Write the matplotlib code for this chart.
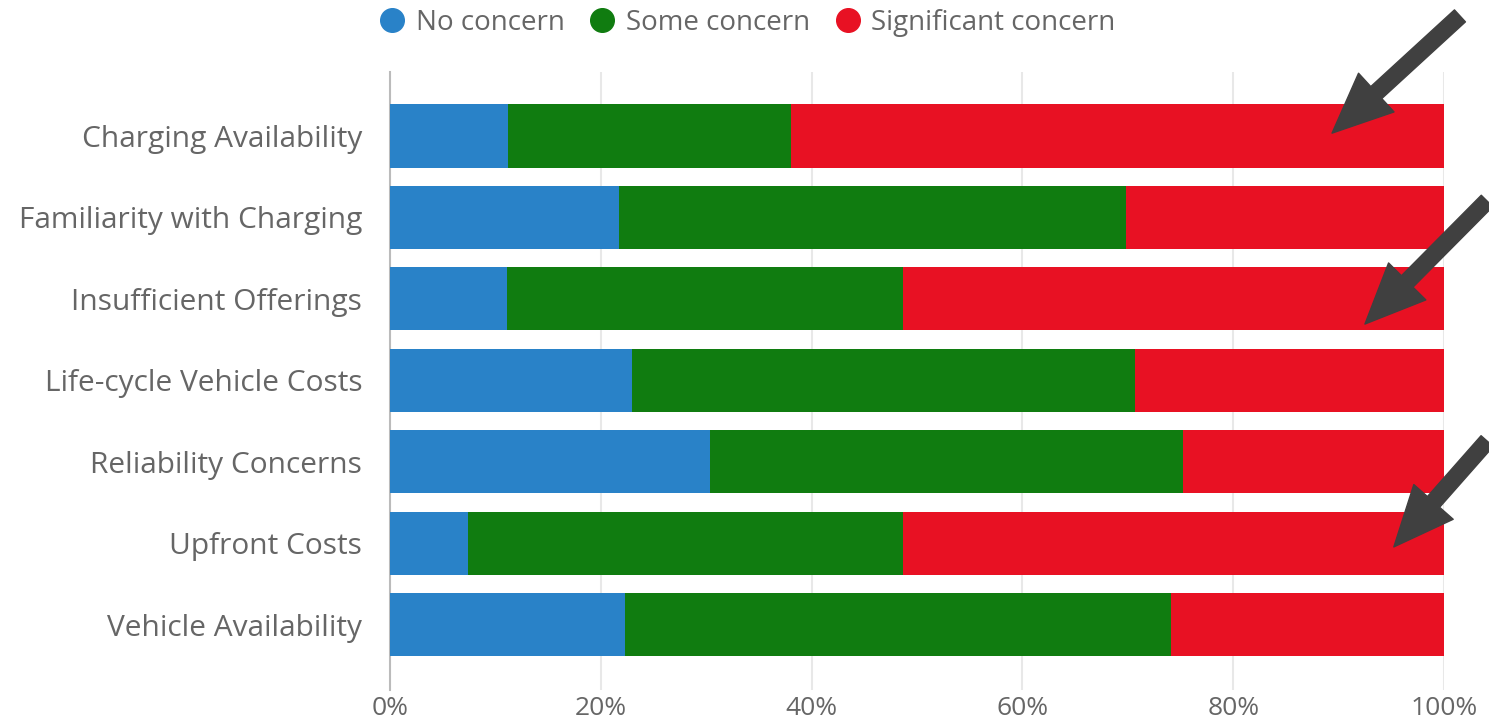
import numpy as np
import matplotlib.pyplot as plt
from matplotlib.lines import Line2D
from matplotlib.patches import FancyArrowPatch

plt.rcParams['font.family'] = ['Open Sans', 'DejaVu Sans']

categories = ['Charging Availability', 'Familiarity with Charging', 'Insufficient Offerings',
              'Life-cycle Vehicle Costs', 'Reliability Concerns', 'Upfront Costs',
              'Vehicle Availability']
noConcern = [11.2, 21.7, 11.1, 23.0, 30.4, 7.4, 22.3]
someConcern = [26.8, 48.1, 37.6, 47.7, 44.8, 41.3, 51.8]
significantConcern = [62.0, 30.2, 51.3, 29.3, 24.8, 51.3, 25.9]
seriesNames = ['No concern', 'Some concern', 'Significant concern']
seriesColors = ['#2982C8', '#107C10', '#E81123']
tickValues = [0, 20, 40, 60, 80, 100]

fig = plt.figure(figsize=(14.89, 7.25), dpi=100)
ax = fig.add_axes([0.2619, 0.0483, 0.9698 - 0.2619, 0.9007 - 0.0483])

y = np.arange(len(categories))
left = np.zeros(len(categories))
for values, name, color in zip([noConcern, someConcern, significantConcern], seriesNames, seriesColors):
    ax.barh(y, values, left=left, height=0.775, color=color, label=name, zorder=3)
    left += np.array(values)

ax.set_xlim(0, 100)
ax.set_ylim(6.8, -0.785)
ax.set_yticks(y)
ax.set_yticklabels(categories, fontsize=21.5, color='#666666')
ax.set_xticks(tickValues)
ax.set_xticklabels([f'{v}%' for v in tickValues], fontsize=19, color='#666666')
ax.tick_params(axis='both', length=0)
ax.tick_params(axis='y', pad=20)
ax.tick_params(axis='x', pad=4)
ax.grid(axis='x', color='#e8e8e8', linewidth=1.5, zorder=0)
for side in ['top', 'right', 'bottom']:
    ax.spines[side].set_visible(False)
ax.spines['left'].set_color('#bbbbbb')
ax.spines['left'].set_linewidth(1.5)

handles = [Line2D([], [], marker='o', linestyle='none', markersize=17, color=c) for c in seriesColors]
fig.legend(handles, seriesNames, loc='center', bbox_to_anchor=(0.497, 0.968), ncol=3,
           frameon=False, fontsize=20, handletextpad=-0.15, columnspacing=0.35,
           labelcolor='#666666')

# dark arrows pointing at the red segments
arrows = [((1462, 14), (1330, 135)), ((1489, 199), (1363, 326)), ((1489, 439), (1392, 549))]
H = 725
for (tx, ty), (hx, hy) in arrows:
    fig.patches.append(FancyArrowPatch(
        (tx, H - ty), (hx, H - hy), transform=None,
        arrowstyle='simple,head_length=2.4,head_width=2.1,tail_width=0.65',
        mutation_scale=18, color='#404040', zorder=10))

fig.savefig('out.png', dpi=100)
